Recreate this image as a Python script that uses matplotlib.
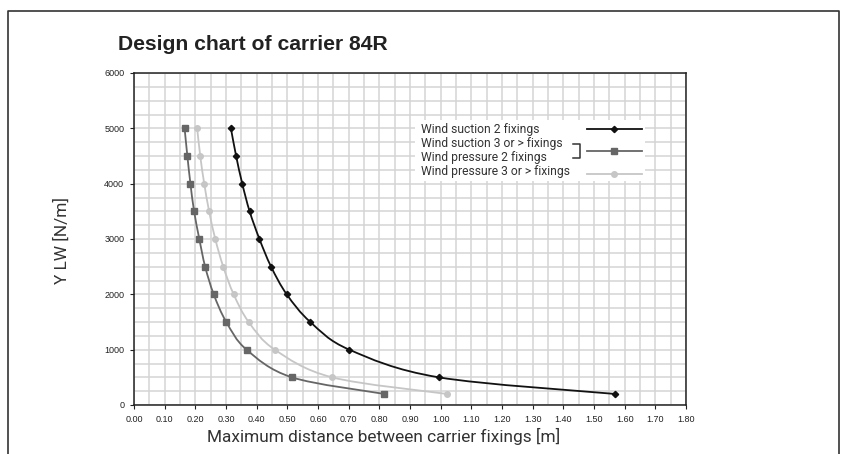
import numpy as np
import matplotlib
matplotlib.use("Agg")
import matplotlib.pyplot as plt
from matplotlib.path import Path
from matplotlib.patches import PathPatch, Rectangle
from matplotlib.lines import Line2D
from matplotlib import font_manager

# ---------------- data ----------------
loads = [5000, 4500, 4000, 3500, 3000, 2500, 2000, 1500, 1000, 500, 200]
suction_2 = [0.316, 0.333, 0.353, 0.377, 0.409, 0.447, 0.498, 0.575, 0.702, 0.994, 1.568]
suction_3_pressure_2 = [0.165, 0.174, 0.184, 0.196, 0.213, 0.232, 0.260, 0.301, 0.367, 0.515, 0.816]
pressure_3 = [0.206, 0.216, 0.229, 0.245, 0.265, 0.291, 0.325, 0.374, 0.459, 0.646, 1.020]
series_labels = ["Wind suction 2 fixings", "Wind suction 3 or > fixings",
                 "Wind pressure 2 fixings", "Wind pressure 3 or > fixings"]
x_ticks = [round(0.1 * i, 2) for i in range(19)]
y_ticks = [0, 1000, 2000, 3000, 4000, 5000, 6000]

names = {f.name for f in font_manager.fontManager.ttflist}
narrow = "Liberation Sans Narrow" if "Liberation Sans Narrow" in names else "Liberation Sans"
light = "Roboto" if "Roboto" in names else "DejaVu Sans"

fig = plt.figure(figsize=(8.43, 4.54), dpi=100)
ax = fig.add_axes([134/843, 49/454, 552/843, 332/454])

ax.set_xlim(0, 1.8)
ax.set_ylim(0, 6000)
ax.set_xticks(x_ticks)
ax.set_xticklabels([f"{v:.2f}" for v in x_ticks], fontsize=6.5, family=narrow, color="#222222")
ax.set_yticks(y_ticks)
ax.set_yticklabels([str(v) for v in y_ticks], fontsize=6.5, family=narrow, color="#222222")
ax.set_xticks(np.arange(0.05, 1.8, 0.1), minor=True)
ax.set_yticks(np.arange(250, 6000, 250), minor=True)
ax.grid(True, which="both", color="#d4d4d4", linewidth=1.1)
ax.set_axisbelow(True)
ax.tick_params(which="major", length=3, width=0.8, color="#222222", pad=4)
ax.tick_params(which="minor", length=0)
for s in ax.spines.values():
    s.set_color("#222222")
    s.set_linewidth(1.1)


def smooth_path(xs, ys):
    pts = np.column_stack([xs, ys])
    n = len(pts)
    verts = [pts[0]]
    codes = [Path.MOVETO]
    for i in range(n - 1):
        p0 = pts[i - 1] if i > 0 else pts[i]
        p1 = pts[i]
        p2 = pts[i + 1]
        p3 = pts[i + 2] if i + 2 < n else pts[i + 1]
        c1 = p1 + (p2 - p0) / 6.0
        c2 = p2 - (p3 - p1) / 6.0
        verts += [c1, c2, p2]
        codes += [Path.CURVE4] * 3
    return Path(verts, codes)


styles = [
    (pressure_3, "#c6c6c6", "o", 4.0),
    (suction_3_pressure_2, "#666666", "s", 3.8),
    (suction_2, "#111111", "D", 3.2),
]
for xs, col, mk, ms in styles:
    ax.add_patch(PathPatch(smooth_path(xs, loads), facecolor="none", edgecolor=col, lw=1.3, zorder=3))
    ax.plot(xs, loads, linestyle="none", marker=mk, color=col, markersize=ms, zorder=4)

# ---------------- legend ----------------
def ax_x(px):
    return (px - 134) / 552

def ax_y(py):
    return (405 - py) / 332

ax.add_patch(Rectangle((ax_x(415), ax_y(181)), ax_x(645) - ax_x(415), ax_y(120) - ax_y(181),
                       transform=ax.transAxes, facecolor="white", edgecolor="none", zorder=5))
text_rows = [130, 144, 158, 172]
for lab, py in zip(series_labels, text_rows):
    ax.text(ax_x(421), ax_y(py), lab, transform=ax.transAxes, fontsize=8.7, family=light,
            color="#333333", va="center", ha="left", zorder=6)

legend_samples = [(128.5, "#111111", "D", 3.2), (150.5, "#666666", "s", 3.8), (173.5, "#c6c6c6", "o", 4.0)]
for py, col, mk, ms in legend_samples:
    ax.add_line(Line2D([ax_x(587), ax_x(642)], [ax_y(py)] * 2, transform=ax.transAxes,
                       color=col, lw=1.3, zorder=6))
    ax.add_line(Line2D([ax_x(614)], [ax_y(py)], transform=ax.transAxes, marker=mk,
                       color=col, markersize=ms, linestyle="none", zorder=7))
ax.add_line(Line2D([ax_x(573), ax_x(580), ax_x(580), ax_x(573)],
                   [ax_y(144), ax_y(144), ax_y(158), ax_y(158)], transform=ax.transAxes,
                   color="#333333", lw=1.1, zorder=6))

# ---------------- titles ----------------
fig.text(118/843, 1 - 45/454, "Design chart of carrier 84R", fontsize=15.2, fontweight="bold",
         family=narrow, color="#222222", va="center", ha="left")
fig.text(384/843, 1 - 436/454, "Maximum distance between carrier fixings [m]", fontsize=12.4,
         family=light, color="#333333", va="center", ha="center")
fig.text(62/843, 1 - 240/454, "Y LW [N/m]", fontsize=12.4, family=light, color="#333333",
         va="center", ha="center", rotation=90)

# outer frame
fig.add_artist(Line2D([8/843, 8/843, 839/843, 839/843], [0, 1 - 11/454, 1 - 11/454, 0],
                      transform=fig.transFigure, color="#333333", lw=1.2))

fig.savefig("out.png", dpi=100)
